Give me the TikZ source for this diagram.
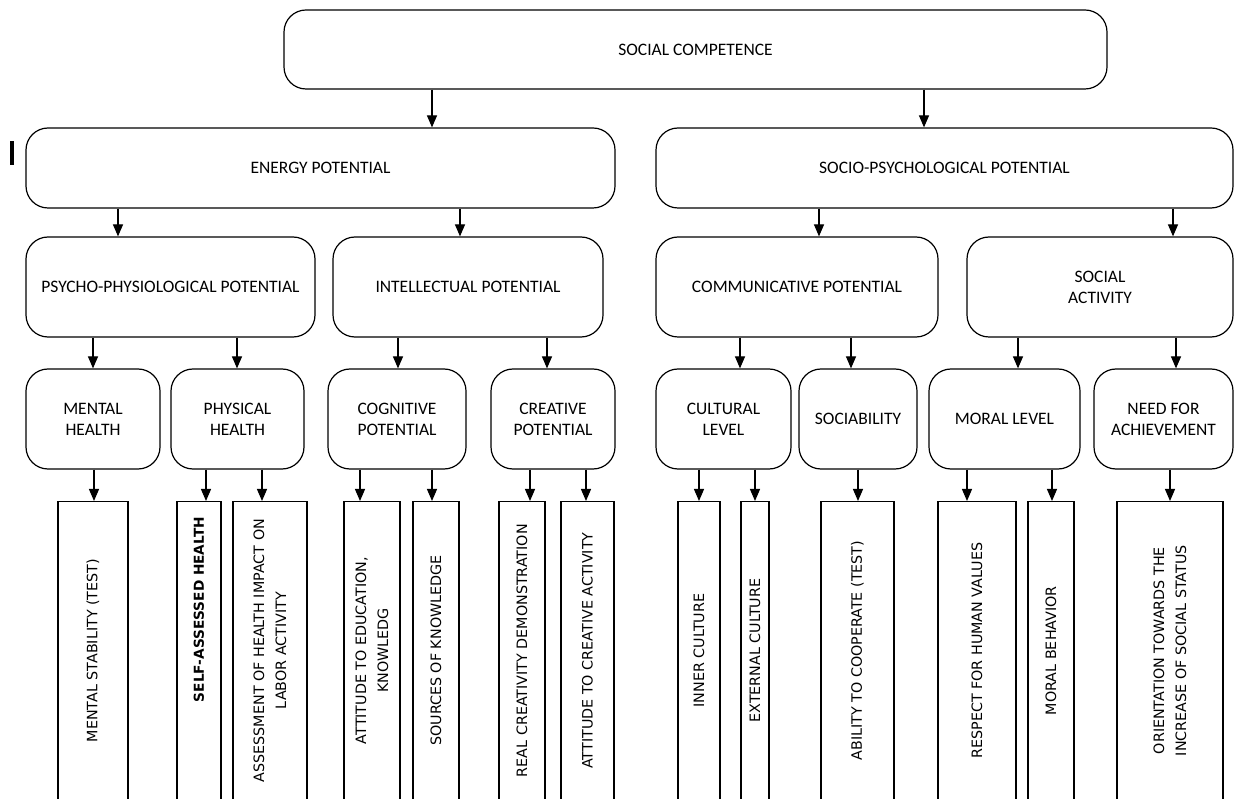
\documentclass[tikz,border=0pt]{standalone}
\usepackage{fontspec}
\newfontfamily\boxfont{Carlito}
\newfontfamily\leaffont{DejaVu Sans}
\usetikzlibrary{arrows.meta}

\begin{document}
\begin{tikzpicture}[
    x=1pt, y=-1pt,
    line width=1.2pt,
    >={Triangle[length=12pt,width=10pt]},
    potential/.style={draw, rounded corners=22pt, align=center, inner sep=0pt,
        font=\boxfont\fontsize{17.5}{21}\selectfont},
    indicator/.style={draw, rotate=90, anchor=east, minimum width=298pt,
        inner sep=0pt, align=center, font=\leaffont\fontsize{14.3}{22}\selectfont}]

    \useasboundingbox (0,0) rectangle (1235,799);
    \clip (-5,-5) rectangle (1240,798.3);

    % stray mark
    \fill (10,141) rectangle (14,165);

    % social competence
    \node[potential, minimum width=823pt, minimum height=79pt] (comp) at (695.5,49.5) {SOCIAL COMPETENCE};

    % first level
    \node[potential, minimum width=589pt, minimum height=80pt] (energy) at (320.5,168) {ENERGY POTENTIAL};
    \node[potential, minimum width=577pt, minimum height=80pt] (socio) at (944.5,168) {SOCIO-PSYCHOLOGICAL POTENTIAL};

    % second level
    \node[potential, minimum width=289pt, minimum height=100pt] (psycho) at (170.5,287) {PSYCHO-PHYSIOLOGICAL POTENTIAL};
    \node[potential, minimum width=270pt, minimum height=100pt] (intel) at (468,287) {INTELLECTUAL POTENTIAL};
    \node[potential, minimum width=282pt, minimum height=100pt] (commun) at (797,287) {COMMUNICATIVE POTENTIAL};
    \node[potential, minimum width=266pt, minimum height=100pt] (activity) at (1100,287) {SOCIAL\\ACTIVITY};

    % third level
    \node[potential, minimum width=134pt, minimum height=100pt] (mental) at (93,419) {MENTAL\\HEALTH};
    \node[potential, minimum width=133pt, minimum height=100pt] (physical) at (237.5,419) {PHYSICAL\\HEALTH};
    \node[potential, minimum width=138pt, minimum height=100pt] (cognitive) at (397,419) {COGNITIVE\\POTENTIAL};
    \node[potential, minimum width=124pt, minimum height=100pt] (creative) at (553,419) {CREATIVE\\POTENTIAL};
    \node[potential, minimum width=135pt, minimum height=100pt] (cultural) at (723.5,419) {CULTURAL\\LEVEL};
    \node[potential, minimum width=118pt, minimum height=100pt] (sociab) at (858,419) {SOCIABILITY};
    \node[potential, minimum width=151pt, minimum height=100pt] (moral) at (1004.5,419) {MORAL LEVEL};
    \node[potential, minimum width=139pt, minimum height=100pt] (need) at (1163.5,419) {NEED FOR\\ACHIEVEMENT};

    % indicators
    \node[indicator, minimum height=70pt] (stab) at (93,501) {MENTAL STABILITY (TEST)};
    \node[indicator, minimum height=44pt, font=\leaffont\bfseries\fontsize{13.7}{20}\selectfont] (selfh) at (199,501) {\hspace*{82pt}SELF-ASSESSED HEALTH};
    \node[indicator, minimum height=74pt] (assess) at (270,501) {ASSESSMENT OF HEALTH IMPACT ON\\LABOR ACTIVITY};
    \node[indicator, minimum height=56pt] (attedu) at (372,501) {ATTITUDE TO EDUCATION,\\KNOWLEDG};
    \node[indicator, minimum height=46pt] (sources) at (436,501) {SOURCES OF KNOWLEDGE};
    \node[indicator, minimum height=46pt] (realcr) at (522,501) {REAL CREATIVITY DEMONSTRATION};
    \node[indicator, minimum height=53pt] (attcr) at (587.5,501) {ATTITUDE TO CREATIVE ACTIVITY};
    \node[indicator, minimum height=42pt] (inner) at (699,501) {INNER CULTURE};
    \node[indicator, minimum height=28pt] (extern) at (755,501) {EXTERNAL CULTURE};
    \node[indicator, minimum height=73pt] (coop) at (857.5,501) {ABILITY TO COOPERATE (TEST)};
    \node[indicator, minimum height=78pt] (respect) at (977,501) {RESPECT FOR HUMAN VALUES};
    \node[indicator, minimum height=46pt] (moralb) at (1051,501) {MORAL BEHAVIOR};
    \node[indicator, minimum height=106pt] (orient) at (1170,501) {ORIENTATION TOWARDS THE\\INCREASE OF SOCIAL STATUS};

    % arrows between the potentials
    \foreach \a/\b/\x in {comp/energy/432, comp/socio/924,
        energy/psycho/118, energy/intel/460, socio/commun/819, socio/activity/1173,
        psycho/mental/93, psycho/physical/237, intel/cognitive/398, intel/creative/547,
        commun/cultural/740, commun/sociab/851, activity/moral/1018, activity/need/1176}
        \draw[->] (\a.south -| \x,0) -- (\b.north -| \x,0);

    % arrows to the indicators (rotated, so their top is east)
    \foreach \a/\b/\x in {mental/stab/94, physical/selfh/206, physical/assess/262,
        cognitive/attedu/360, cognitive/sources/432, creative/realcr/530, creative/attcr/586,
        cultural/inner/699, cultural/extern/755, sociab/coop/858,
        moral/respect/967, moral/moralb/1052, need/orient/1170}
        \draw[->] (\a.south -| \x,0) -- (\b.east -| \x,0);

\end{tikzpicture}
\end{document}
